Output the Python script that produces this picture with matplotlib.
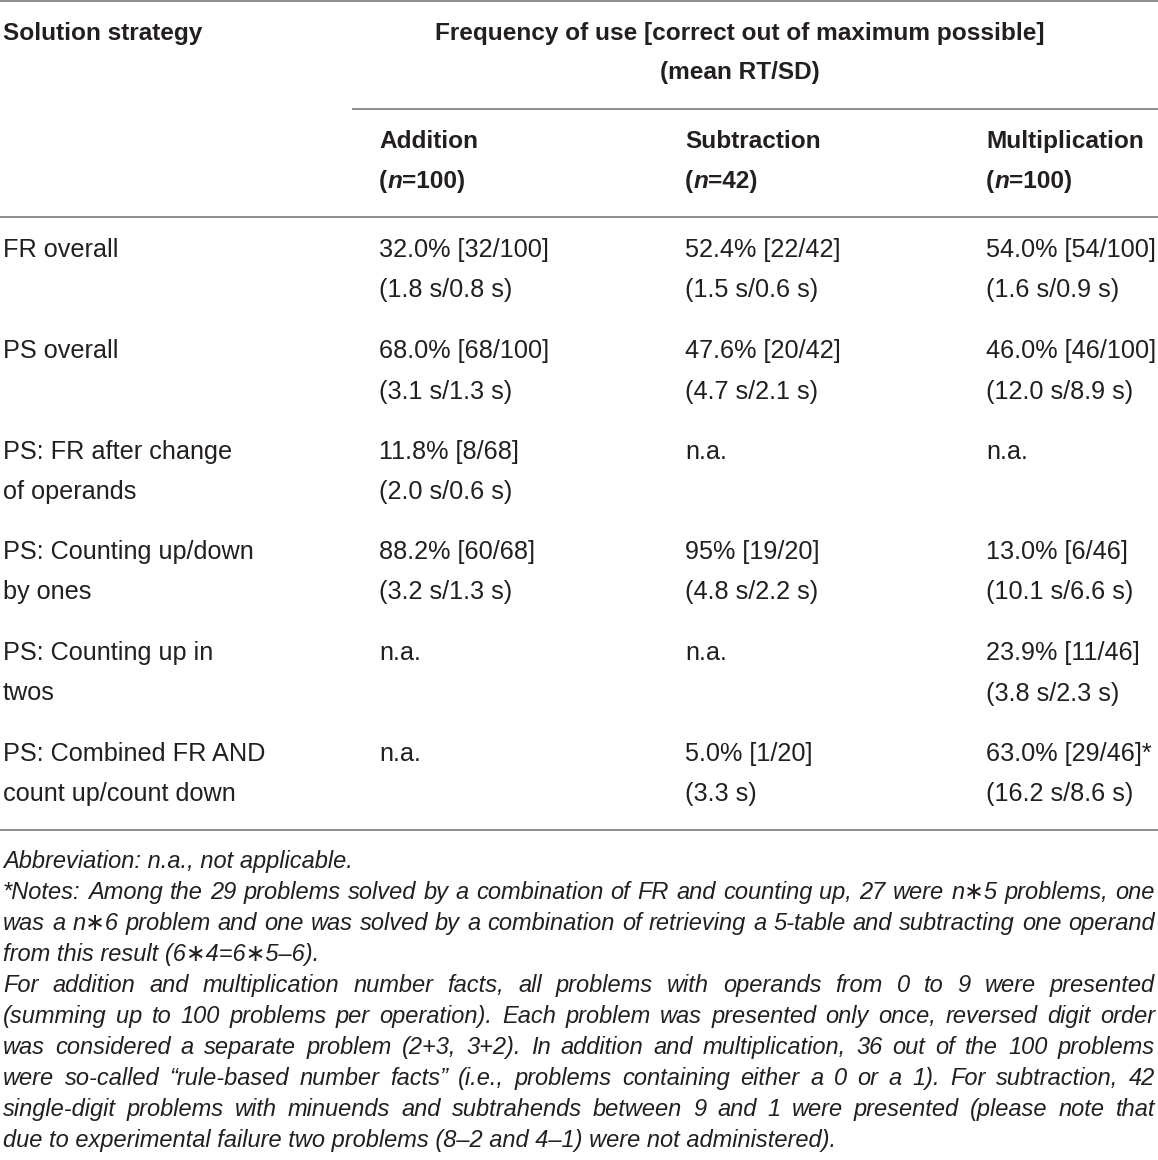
import matplotlib
matplotlib.use("Agg")
import matplotlib.pyplot as plt

# table content
strategies = ["FR overall", "PS overall", "PS: FR after change\nof operands",
              "PS: Counting up/down\nby ones", "PS: Counting up in\ntwos",
              "PS: Combined FR AND\ncount up/count down"]
operations = ["Addition", "Subtraction", "Multiplication"]
op_n = ["100", "42", "100"]

addition = ["32.0% [32/100]\n(1.8 s/0.8 s)", "68.0% [68/100]\n(3.1 s/1.3 s)",
            "11.8% [8/68]\n(2.0 s/0.6 s)", "88.2% [60/68]\n(3.2 s/1.3 s)",
            "n.a.", "n.a."]
subtraction = ["52.4% [22/42]\n(1.5 s/0.6 s)", "47.6% [20/42]\n(4.7 s/2.1 s)",
               "n.a.", "95% [19/20]\n(4.8 s/2.2 s)", "n.a.",
               "5.0% [1/20]\n(3.3 s)"]
multiplication = ["54.0% [54/100]\n(1.6 s/0.9 s)", "46.0% [46/100]\n(12.0 s/8.9 s)",
                  "n.a.", "13.0% [6/46]\n(10.1 s/6.6 s)",
                  "23.9% [11/46]\n(3.8 s/2.3 s)",
                  "63.0% [29/46]*\n(16.2 s/8.6 s)"]

abbrev = "Abbreviation: n.a., not applicable."
notes = [
    ("*Notes: Among the 29 problems solved by a combination of FR and counting up, 27 were n\u22175 problems, one", True),
    ("was a n\u22176 problem and one was solved by a combination of retrieving a 5-table and subtracting one operand", True),
    ("from this result (6\u22174=6\u22175\u20136).", False),
    ("For addition and multiplication number facts, all problems with operands from 0 to 9 were presented", True),
    ("(summing up to 100 problems per operation). Each problem was presented only once, reversed digit order", True),
    ("was considered a separate problem (2+3, 3+2). In addition and multiplication, 36 out of the 100 problems", True),
    ("were so-called \u201crule-based number facts\u201d (i.e., problems containing either a 0 or a 1). For subtraction, 42", True),
    ("single-digit problems with minuends and subtrahends between 9 and 1 were presented (please note that", True),
    ("due to experimental failure two problems (8\u20132 and 4\u20131) were not administered).", False),
]

W, H = 1158, 1160
TXT = "#231f20"
LINE = "#8c8c8c"
FONT = ["Liberation Sans", "DejaVu Sans"]
FS = 18.2
FS_BOLD = 17.6
FS_NOTE = 17.0
BL = 8      # baseline offset below the visual centre of a line
BL_NOTE = 7

fig = plt.figure(figsize=(W / 100, H / 100), dpi=100)
ax = fig.add_axes([0, 0, 1, 1])
ax.set_xlim(0, W)
ax.set_ylim(H, 0)
ax.axis("off")
renderer = fig.canvas.get_renderer()


def width_of(t):
    bb = t.get_window_extent(renderer)
    return bb.width


def runs(x, y, parts, size=FS_BOLD):
    # draw pieces of text one after another on a line
    for s, w, st in parts:
        t = ax.text(x, y + BL, s, fontsize=size, fontweight=w, fontstyle=st,
                    family=FONT, color=TXT, va="baseline", ha="left")
        x += width_of(t)


def note(x, y, s):
    return ax.text(x, y + BL_NOTE, s, fontsize=FS_NOTE, fontstyle="italic",
                   family=FONT, color=TXT, va="baseline", ha="left")


def justify(y, line, x0=3, x1=W - 3):
    words = line.split(" ")
    ts = [note(0, y, wd) for wd in words]
    ws = [width_of(t) for t in ts]
    gap = (x1 - x0 - sum(ws)) / (len(words) - 1)
    x = x0
    for t, w in zip(ts, ws):
        t.set_x(x)
        x += w + gap


# rules
ax.plot([0, W], [1, 1], color=LINE, lw=1.4)
ax.plot([353, W], [109, 109], color=LINE, lw=1.4)
ax.plot([0, W], [217, 217], color=LINE, lw=1.4)
ax.plot([0, W], [830, 830], color=LINE, lw=1.4)

# header
ax.text(3, 32 + BL, "Solution strategy", fontsize=FS_BOLD, fontweight="bold",
        family=FONT, color=TXT, va="baseline")
ax.text(740, 32 + BL, "Frequency of use [correct out of maximum possible]",
        fontsize=FS_BOLD, fontweight="bold", family=FONT, color=TXT,
        va="baseline", ha="center")
ax.text(740, 71 + BL, "(mean RT/SD)", fontsize=FS_BOLD, fontweight="bold",
        family=FONT, color=TXT, va="baseline", ha="center")

col_x = [379, 685, 986]
for cx, op, n in zip(col_x, operations, op_n):
    ax.text(cx, 140 + BL, op, fontsize=FS_BOLD, fontweight="bold", family=FONT,
            color=TXT, va="baseline")
    runs(cx, 180, [("(", "bold", "normal"), ("n", "bold", "italic"),
                   ("=" + n + ")", "bold", "normal")])

# body rows
row_y = [249, 350, 451, 551, 652, 753]
line_gap = 40.5
for i, y in enumerate(row_y):
    cols = [strategies[i], addition[i], subtraction[i], multiplication[i]]
    for cx, cell in zip([3] + col_x, cols):
        for k, part in enumerate(cell.split("\n")):
            ax.text(cx, y + k * line_gap + BL, part, fontsize=FS, family=FONT,
                    color=TXT, va="baseline")

# footnotes
ny = 861
step = 31.0
note(3, ny, abbrev)
for i, (line, just) in enumerate(notes):
    y = ny + (i + 1) * step
    if just:
        justify(y, line)
    else:
        note(3, y, line)

fig.savefig("out.png", dpi=100)
